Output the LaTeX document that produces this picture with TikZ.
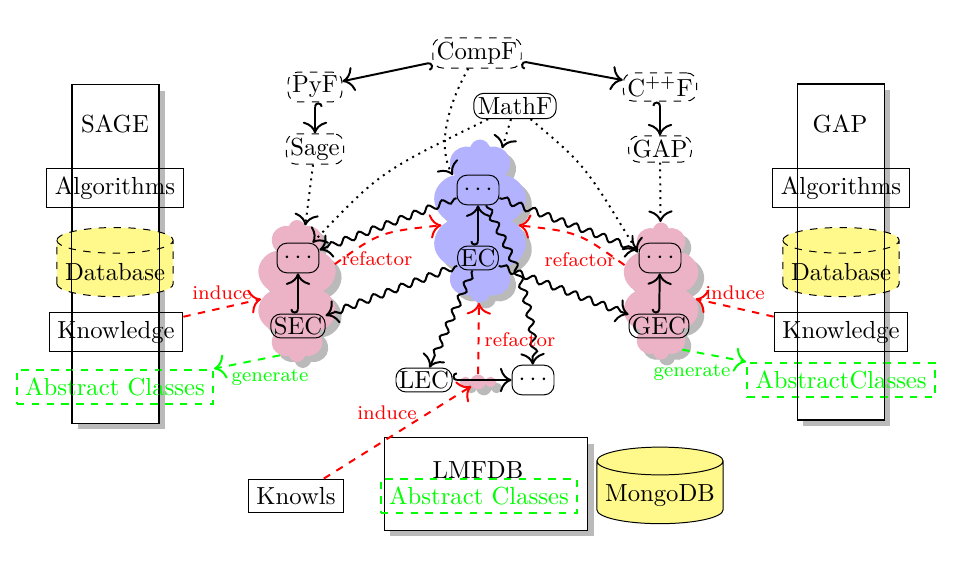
\documentclass[tikz,border=0pt]{standalone}
\usetikzlibrary{shapes.symbols,shapes.geometric,arrows.meta,decorations.pathmorphing,shadows}
\begin{document}
\begin{tikzpicture}[x=0.405pt,y=-0.405pt,
  >={To[scale=1.4]},
  shd/.style={drop shadow={shadow xshift=2.4pt,shadow yshift=-2.4pt,fill=black!27,opacity=1}},
  plain/.style={draw, rectangle, inner sep=3.33pt},
  fw/.style={draw, dashed, rounded corners=4pt, inner sep=1.6pt},
  ecn/.style={draw, rounded corners=4pt, inner sep=1.2pt},
  dd/.style={ecn, minimum width=17pt, minimum height=12pt},
  abs/.style={draw=green, thick, dashed, text=green, inner sep=3.33pt},
  db/.style={cylinder, shape border rotate=90, aspect=0.22, draw, fill=yellow!45},
  bigbox/.style={draw, fill=white, shd},
  pcloud/.style={cloud, cloud puffs=10, cloud puff arc=150, cloud ignores aspect, fill=purple!30, inner sep=0pt, shd},
  bcloud/.style={cloud, cloud puffs=10, cloud puff arc=150, cloud ignores aspect, fill=blue!30, inner sep=0pt, shd},
  lab/.style={font=\footnotesize, inner sep=1pt},
  hk/.style={thick, {Hooks[right]}->},
  hkr/.style={thick, {Hooks[left]}->},
  wv/.style={thick, ->, decorate, decoration={snake, amplitude=1.3pt, segment length=6pt, pre length=1pt, post length=3pt}},
  dt/.style={thick, dotted, ->},
  rd/.style={thick, dashed, red, ->},
  gd/.style={thick, dashed, green, ->}]
\useasboundingbox (0,0) rectangle (970,576);

% SAGE column
\node[bigbox, minimum width=35.2pt, minimum height=137pt] (sage) at (115.5,254) {};
\node (sagel) at (115,124) {SAGE};
\node[plain] (algL) at (115,188) {Algorithms};
\node[db, dashed, minimum width=47pt, minimum height=28pt] (dbL) at (115,272) {Database};
\node[plain] (knL) at (116,332) {Knowledge};
\node[abs] (absL) at (115,387) {Abstract Classes};
\draw (sage.north west) rectangle (sage.south east);

% GAP column
\node[bigbox, minimum width=35.2pt, minimum height=136pt] (gap) at (841,252) {};
\node (gapl) at (840,124) {GAP};
\node[plain] (algR) at (841,188) {Algorithms};
\node[db, dashed, minimum width=47pt, minimum height=28pt] (dbR) at (841,272) {Database};
\node[plain] (knR) at (841,332) {Knowledge};
\node[abs] (absR) at (841,380) {AbstractClasses};
\draw (gap.north west) rectangle (gap.south east);

% clouds
\node[pcloud, minimum width=32.8pt, minimum height=57.5pt] (secC) at (297,291) {};
\node[bcloud, minimum width=38.9pt, minimum height=66pt] (ecC) at (480,221) {};
\node[pcloud, minimum width=31.6pt, minimum height=55.5pt] (gecC) at (661,291) {};
\node[pcloud, cloud puffs=8, minimum width=15pt, minimum height=6pt] (lc) at (478,382) {};

% top nodes
\node[fw] (compf) at (477,53) {CompF};
\node[fw] (pyf) at (315,87) {PyF};
\node[fw] (sagef) at (315,149) {Sage};
\node[fw] (cppf) at (660,87) {C$^{++}$F};
\node[fw] (gapf) at (660,149) {GAP};
\node[ecn, inner sep=1.6pt] (mathf) at (515,106) {MathF};

% inner nodes
\node[dd] (ecd) at (478,190) {$\cdots$};
\node[ecn] (ec) at (478,258) {EC};
\node[dd] (secd) at (298,258) {$\cdots$};
\node[ecn] (sec) at (298,326) {SEC};
\node[dd] (gecd) at (660,258) {$\cdots$};
\node[ecn] (gec) at (659,326) {GEC};
\node[ecn] (lec) at (424,380) {LEC};
\node[dd] (bd) at (533,380) {$\cdots$};

% bottom
\node[plain] (knowls) at (296,496) {Knowls};
\node[bigbox, minimum width=82.6pt, minimum height=37.3pt] (lmfdb) at (486,484) {};
\node (lmfdbl) at (478,470) {LMFDB};
\node[abs] (absB) at (479,496) {Abstract Classes};
\node[db, minimum width=51pt, minimum height=31pt] (mongo) at (660,496) {MongoDB};

% hook arrows
\draw[hk] (compf) -- (pyf);
\draw[hkr] (compf) -- (cppf);
\draw[hk] (pyf) -- (sagef);
\draw[hkr] (cppf) -- (gapf);
\draw[hk] (sec) -- (secd);
\draw[hk] (ec) -- (ecd);
\draw[hk] (gec) -- (gecd);
\draw[hk] (lec) -- (bd);

% dotted
\draw[dt] (sagef) -- (secC);
\draw[dt] (gapf) -- (gecC);
\draw[dt] (compf) .. controls (445,110) and (438,150) .. (ecC);
\draw[dt] (mathf) -- (ecC);
\draw[dt] (mathf) .. controls (380,172) .. (secd);
\draw[dt] (mathf) .. controls (585,165) .. (gecC);

% wavy
\draw[wv] (ecd) -- (secd);
\draw[wv] (ecd) -- (gecd);
\draw[wv] (ec) -- (sec);
\draw[wv] (ec) -- (gec);
\draw[wv] (ec) -- (lec);
\draw[wv] (ecd) .. controls (515,260) and (532,300) .. (bd);

% red
\draw[rd] (secC) .. controls (380,232) .. (ecC);
\node[lab, red] (rf1) at (377,259) {refactor};
\draw[rd] (gecC) .. controls (578,232) .. (ecC);
\node[lab, red] (rf2) at (580,260) {refactor};
\draw[rd] (lc) -- (ecC);
\node[lab, red] (rf3) at (520,340) {refactor};
\draw[rd] (knL) -- (secC);
\node[lab, red] (in1) at (222,293) {induce};
\draw[rd] (knR) -- (gecC);
\node[lab, red] (in2) at (735,293) {induce};
\draw[rd] (knowls) -- (lc);
\node[lab, red] (in3) at (387,413) {induce};

% green
\draw[gd] (secC.255) -- (absL.north east);
\node[lab, green] (ge1) at (270,377) {generate};
\draw[gd] (gecC.290) -- (absR.north west);
\node[lab, green] (ge2) at (692,372) {generate};
\end{tikzpicture}
\end{document}
